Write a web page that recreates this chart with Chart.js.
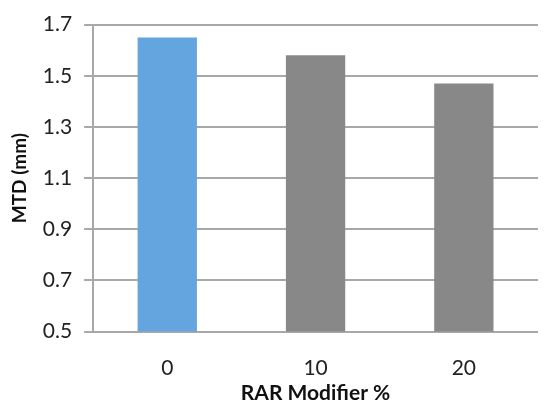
<!DOCTYPE html>
<html>
<head>
<meta charset="utf-8">
<script src="https://cdn.jsdelivr.net/npm/chart.js@4"></script>
<style>
  html, body { margin: 0; padding: 0; background: #fff; }
  #wrap { width: 550px; height: 410px; }
</style>
</head>
<body>
<div id="wrap"><canvas id="mtdChart" width="550" height="410"></canvas></div>
<script>
// --- Data ---
const categories = ['0', '10', '20'];
const mtdValues = [1.65, 1.58, 1.47];
const barColors = ['#64a5e0', '#888888', '#888888'];
const yTicks = [0.5, 0.7, 0.9, 1.1, 1.3, 1.5, 1.7];

const fontFamily = 'Lato, "Open Sans", sans-serif';
const gridColor = '#a8a8a8';

new Chart(document.getElementById('mtdChart'), {
    type: 'bar',
    data: {
        labels: categories,
        datasets: [{
            data: mtdValues,
            backgroundColor: barColors,
            borderWidth: 0,
            categoryPercentage: 0.4,
            barPercentage: 1.0
        }]
    },
    options: {
        responsive: false,
        animation: false,
        layout: { padding: { top: 13, right: 12, bottom: 4, left: 8 } },
        plugins: { legend: { display: false }, tooltip: { enabled: false } },
        scales: {
            x: {
                grid: { display: false, drawTicks: false },
                border: { display: false },
                ticks: { color: '#222', padding: 24, font: { family: fontFamily, size: 21 } },
                title: {
                    display: true,
                    text: 'RAR Modifier %',
                    color: '#111',
                    padding: { top: -24, bottom: 0 },
                    font: { family: fontFamily, size: 21, weight: 'bold' }
                }
            },
            y: {
                min: yTicks[0],
                max: yTicks[yTicks.length - 1],
                afterBuildTicks: axis => { axis.ticks = yTicks.map(v => ({ value: v })); },
                grid: { color: gridColor, lineWidth: 2, tickLength: 9 },
                border: { display: true, color: gridColor, width: 2 },
                ticks: {
                    color: '#222',
                    padding: 12,
                    font: { family: fontFamily, size: 21 },
                    callback: v => Number(v).toFixed(1)
                },
                title: {
                    display: true,
                    text: 'MTD (mm)',
                    color: '#111',
                    padding: { top: 0, bottom: 0 },
                    font: { family: fontFamily, size: 19, weight: 'bold' }
                }
            }
        }
    }
});
</script>
</body>
</html>
